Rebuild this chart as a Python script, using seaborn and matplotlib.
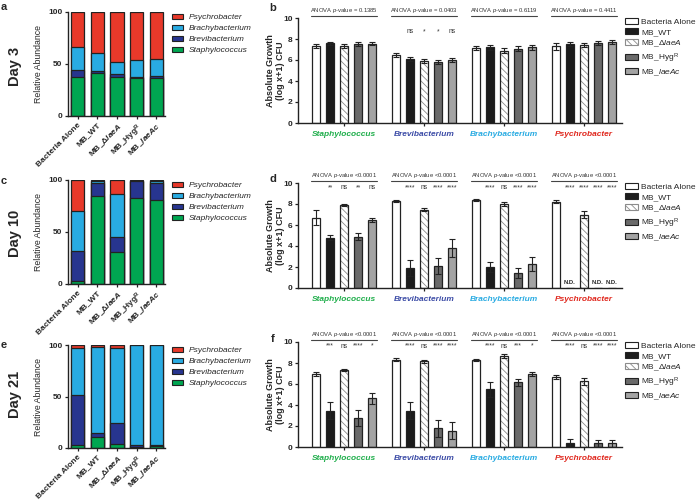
import pandas as pd
import matplotlib
matplotlib.use("Agg")
import matplotlib.pyplot as plt
from matplotlib.patches import Patch, Rectangle
import seaborn as sns

# ---- data -------------------------------------------------------------
strains = ["Bacteria Alone", "MB_WT", "MB_ΔlaeA", "MB_HygR", "MB_laeAc"]
genera = ["Staphylococcus", "Brevibacterium", "Brachybacterium", "Psychrobacter"]

strain_ticks = ["Bacteria Alone", "MB_WT", r"MB_Δ$\mathbfit{laeA}$",
                r"MB_Hyg$^\mathbf{R}$", r"MB_$\mathbfit{laeAc}$"]
strain_legend = ["Bacteria Alone", "MB_WT", r"MB_Δ$\mathit{laeA}$",
                 r"MB_Hyg$^\mathrm{R}$", r"MB_$\mathit{laeAc}$"]

# relative abundance (%), one value per strain
day3_staph = [37.5, 41.3, 37.5, 36.2, 36.9]
day3_brevi = [7.0, 2.0, 2.5, 1.3, 1.2]
day3_brachy = [21.8, 17.3, 12.2, 16.0, 16.4]
day3_psychro = [33.7, 39.4, 47.8, 46.5, 45.5]

day10_staph = [2.6, 84.6, 30.4, 82.4, 81.1]
day10_brevi = [29.4, 12.8, 15.1, 16.6, 15.7]
day10_brachy = [38.5, 1.6, 41.4, 0.5, 2.2]
day10_psychro = [29.5, 1.0, 13.1, 0.5, 1.0]

day21_staph = [2.9, 10.6, 4.2, 1.3, 2.3]
day21_brevi = [48.4, 3.6, 20.0, 1.6, 0.6]
day21_brachy = [46.1, 83.8, 73.2, 97.1, 97.1]
day21_psychro = [2.6, 2.0, 2.6, 0.0, 0.0]

# absolute growth, log(x+1) CFU: rows = genera, columns = strains
day3_mean = [[7.37, 7.60, 7.30, 7.52, 7.55],
             [6.50, 6.13, 5.94, 5.84, 6.03],
             [7.14, 7.20, 6.90, 7.08, 7.20],
             [7.30, 7.55, 7.46, 7.60, 7.68]]
day3_sem = [[0.20, 0.15, 0.20, 0.20, 0.15],
            [0.20, 0.20, 0.20, 0.20, 0.20],
            [0.20, 0.25, 0.25, 0.25, 0.25],
            [0.30, 0.20, 0.20, 0.20, 0.20]]
day3_sig = [["", "", "", "", ""],
            ["", "ns", "*", "*", "ns"],
            ["", "", "", "", ""],
            ["", "", "", "", ""]]
day3_anova = ["= 0.1385", "= 0.0403", "= 0.6119", "= 0.4411"]

day10_mean = [[6.70, 4.80, 7.87, 4.90, 6.44],
              [8.25, 1.90, 7.46, 2.10, 3.80],
              [8.40, 2.00, 8.00, 1.43, 2.30],
              [8.20, 0.00, 7.00, 0.00, 0.00]]
day10_sem = [[0.70, 0.25, 0.10, 0.30, 0.20],
             [0.10, 0.75, 0.15, 0.80, 0.85],
             [0.10, 0.50, 0.20, 0.50, 0.70],
             [0.15, 0.00, 0.30, 0.00, 0.00]]
day10_sig = [["", "**", "ns", "**", "ns"],
             ["", "****", "ns", "****", "****"],
             ["", "****", "ns", "****", "****"],
             ["", "****", "****", "****", "****"]]
day10_anova = ["<0.0001", "<0.0001", "<0.0001", "<0.0001"]

day21_mean = [[6.94, 3.44, 7.32, 2.74, 4.64],
              [8.33, 3.44, 8.17, 1.80, 1.55],
              [8.30, 5.50, 8.70, 6.15, 6.94],
              [6.70, 0.40, 6.25, 0.35, 0.35]]
day21_sem = [[0.20, 0.80, 0.10, 0.75, 0.55],
             [0.10, 0.80, 0.15, 0.80, 0.80],
             [0.10, 0.70, 0.20, 0.30, 0.20],
             [0.20, 0.40, 0.30, 0.35, 0.35]]
day21_sig = [["", "***", "ns", "****", "*"],
             ["", "****", "ns", "****", "****"],
             ["", "****", "ns", "***", "*"],
             ["", "****", "ns", "****", "****"]]
day21_anova = ["<0.0001", "<0.0001", "<0.0001", "<0.0001"]

# ---- style ------------------------------------------------------------
sns.set_style("ticks")
plt.rcParams["font.family"] = ["Liberation Sans", "DejaVu Sans"]
plt.rcParams["mathtext.fontset"] = "custom"
plt.rcParams["mathtext.rm"] = "Liberation Sans"
plt.rcParams["mathtext.it"] = "Liberation Sans:italic"
plt.rcParams["mathtext.bf"] = "Liberation Sans:bold"
plt.rcParams["mathtext.bfit"] = "Liberation Sans:italic:bold"
plt.rcParams["hatch.linewidth"] = 0.6

EDGE = "#222222"
genus_order = ["Psychrobacter", "Brachybacterium", "Brevibacterium", "Staphylococcus"]
genus_colors = {"Psychrobacter": "#e8392a", "Brachybacterium": "#29abe2",
                "Brevibacterium": "#27358f", "Staphylococcus": "#00a651"}
label_colors = ["#1fae4b", "#3b4ba6", "#29abe2", "#e0281e"]
strain_colors = dict(zip(strains, ["white", "#1c1c1c", "white", "#6a6a6a", "#a3a3a3"]))

W, H = 696, 501
fig = plt.figure(figsize=(6.96, 5.01), dpi=100)


def axes_px(left, top, right, bottom):
    return fig.add_axes([left / W, 1 - bottom / H, (right - left) / W, (bottom - top) / H])


def style_axes(ax):
    sns.despine(ax=ax)
    for s in ("left", "bottom"):
        ax.spines[s].set_linewidth(1.0)
        ax.spines[s].set_color(EDGE)
    ax.tick_params(length=2.5, width=0.9, color=EDGE, pad=1.5)


def abundance_panel(ax, staph, brevi, brachy, psychro):
    df = pd.DataFrame({"strain": strains, "Staphylococcus": staph,
                       "Brevibacterium": brevi, "Brachybacterium": brachy,
                       "Psychrobacter": psychro})
    df["Brevibacterium"] += df["Staphylococcus"]
    df["Brachybacterium"] += df["Brevibacterium"]
    df["Psychrobacter"] += df["Brachybacterium"]
    # stacked bars: draw the cumulative totals from the top layer down
    for g in genus_order:
        sns.barplot(data=df, x="strain", y=g, color=genus_colors[g], saturation=1,
                    width=0.67, edgecolor=EDGE, linewidth=0.9, errorbar=None, ax=ax)
    ax.set_ylim(0, 100)
    ax.set_xlim(-0.5, 4.45)
    ax.set_yticks([0, 50, 100])
    ax.set_xticks(range(5))
    ax.set_xticklabels(strain_ticks, rotation=45, ha="right", rotation_mode="anchor",
                       fontsize=6, fontweight="bold")
    for t in ax.get_yticklabels():
        t.set_fontsize(6)
        t.set_fontweight("bold")
    ax.set_xlabel("")
    ax.set_ylabel("Relative Abundance", fontsize=6.3)
    ax.yaxis.set_label_coords(-0.255, 0.5)
    style_axes(ax)
    handles = [Patch(facecolor=genus_colors[g], edgecolor=EDGE, linewidth=0.8)
               for g in genus_order]
    bb = ax.get_position()
    ax.legend(handles, genus_order, loc="upper left",
              bbox_to_anchor=(172 / W, bb.y1 - 2 / H),
              bbox_transform=fig.transFigure, frameon=False,
              prop={"size": 6, "style": "italic"}, handlelength=1.35, handleheight=0.55,
              labelspacing=0.42, handletextpad=0.65, borderpad=0, borderaxespad=0)


def growth_panel(ax, means, sems, sig, anova, sig_y):
    rows = [{"genus": g, "strain": s, "value": means[gi][si]}
            for gi, g in enumerate(genera) for si, s in enumerate(strains)]
    df = pd.DataFrame(rows)
    sns.barplot(data=df, x="genus", y="value", hue="strain", order=genera,
                hue_order=strains, palette=strain_colors, saturation=1,
                width=0.875, gap=0.4, errorbar=None, edgecolor=EDGE,
                linewidth=0.9, legend=False, ax=ax)
    bar_conts = list(ax.containers)
    for si, cont in enumerate(bar_conts):
        for gi, bar in enumerate(cont):
            x = bar.get_x() + bar.get_width() / 2
            h = bar.get_height()
            if si == 2:
                # hatched bar: grey hatch, dark outline drawn on top
                bar.set_hatch("\\\\\\\\\\")
                bar.set_edgecolor("#8c8c8c")
                bar.set_linewidth(0)
                ax.add_patch(Rectangle(bar.get_xy(), bar.get_width(), h, fill=False,
                                       edgecolor=EDGE, linewidth=0.9,
                                       zorder=bar.get_zorder() + 0.1))
            if h > 0:
                ax.errorbar(x, h, yerr=sems[gi][si], color=EDGE, elinewidth=0.8,
                            capsize=2, capthick=0.8, zorder=5)
            else:
                ax.text(x, 0.25, "N.D.", ha="center", va="bottom", fontsize=4.3,
                        fontweight="bold")
            if sig[gi][si]:
                ax.text(x, sig_y, sig[gi][si], ha="center", va="bottom", fontsize=4.8,
                        color="#333333")
    for gi in range(len(genera)):
        first, last = bar_conts[0][gi], bar_conts[-1][gi]
        x0, x1 = first.get_x() - 0.01, last.get_x() + last.get_width() + 0.01
        ax.plot([x0, x1], [10.2, 10.2], color="#444444", lw=0.8, clip_on=False)
        ax.text((x0 + x1) / 2, 10.32, r"ANOVA $\mathit{p}$-value " + anova[gi],
                ha="center", va="bottom", fontsize=4.2, color="#333333", clip_on=False)
    ax.set_ylim(0, 10)
    ax.set_xlim(-0.575, 3.475)
    ax.set_yticks(range(0, 11, 2))
    ax.set_xticks(range(4))
    ax.set_xticklabels(genera, fontsize=6, fontweight="bold", style="italic")
    for t, c in zip(ax.get_xticklabels(), label_colors):
        t.set_color(c)
    for t in ax.get_yticklabels():
        t.set_fontsize(6)
        t.set_fontweight("bold")
    ax.set_xlabel("")
    ax.set_ylabel("Absolute Growth\n(log x+1) CFU", fontsize=6.5, fontweight="bold",
                  linespacing=1.1)
    ax.yaxis.set_label_coords(-0.04, 0.5)
    style_axes(ax)
    ax.tick_params(axis="x", pad=3)
    handles = []
    for si, s in enumerate(strains):
        if si == 2:
            handles.append(Patch(facecolor="white", edgecolor="#8c8c8c", hatch="\\\\\\\\\\",
                                 linewidth=0.8))
        else:
            handles.append(Patch(facecolor=strain_colors[s], edgecolor=EDGE, linewidth=0.8))
    bb = ax.get_position()
    ax.legend(handles, strain_legend, loc="upper left",
              bbox_to_anchor=(625 / W, bb.y1), bbox_transform=fig.transFigure,
              frameon=False, fontsize=6, handlelength=1.6, handleheight=0.65,
              labelspacing=0.3, handletextpad=0.35, borderpad=0, borderaxespad=0)


# ---- panels -----------------------------------------------------------
ax_a = axes_px(68, 12, 165, 116)
abundance_panel(ax_a, day3_staph, day3_brevi, day3_brachy, day3_psychro)
ax_c = axes_px(68, 180, 165, 284)
abundance_panel(ax_c, day10_staph, day10_brevi, day10_brachy, day10_psychro)
ax_e = axes_px(68, 345, 165, 448)
abundance_panel(ax_e, day21_staph, day21_brevi, day21_brachy, day21_psychro)

ax_b = axes_px(298, 18, 622, 123)
growth_panel(ax_b, day3_mean, day3_sem, day3_sig, day3_anova, 8.35)
ax_d = axes_px(298, 183, 622, 288)
growth_panel(ax_d, day10_mean, day10_sem, day10_sig, day10_anova, 9.2)
ax_f = axes_px(298, 342, 622, 447)
growth_panel(ax_f, day21_mean, day21_sem, day21_sig, day21_anova, 9.25)

for txt, y in [("Day 3", 66), ("Day 10", 233), ("Day 21", 394)]:
    fig.text(15 / W, 1 - y / H, txt, rotation=90, ha="center", va="center",
             fontsize=10.5, fontweight="bold")

for txt, x, y in [("a", 4, 7), ("b", 273, 8), ("c", 4, 181), ("d", 273, 179),
                  ("e", 4, 345), ("f", 273, 339)]:
    fig.text(x / W, 1 - y / H, txt, ha="center", va="center", fontsize=8,
             fontweight="bold")

fig.savefig("out.png", dpi=100)
